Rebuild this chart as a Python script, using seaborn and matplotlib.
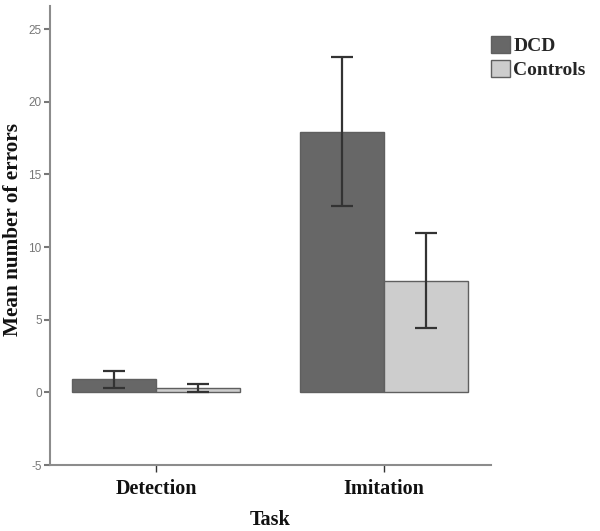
import matplotlib
matplotlib.use("Agg")
import matplotlib.pyplot as plt
import seaborn as sns
import pandas as pd
import numpy as np
from matplotlib.patches import Patch

tasks = ["Detection", "Imitation"]
groups = ["DCD", "Controls"]
dcd_means = [0.9, 17.9]
ctrl_means = [0.3, 7.7]
dcd_low = [0.3, 12.8]
dcd_high = [1.5, 23.1]
ctrl_low = [0.0, 4.4]
ctrl_high = [0.6, 11.0]
yticks = [-5, 0, 5, 10, 15, 20, 25]

colors = {"DCD": "#676767", "Controls": "#cdcdcd"}

df = pd.DataFrame({
    "Task": tasks * 2,
    "Group": ["DCD"] * 2 + ["Controls"] * 2,
    "Mean": dcd_means + ctrl_means,
    "Low": dcd_low + ctrl_low,
    "High": dcd_high + ctrl_high,
})

sns.set_style("white")
serif = ["Liberation Serif", "DejaVu Serif"]

fig = plt.figure(figsize=(6.0, 5.31), dpi=100)
ax = fig.add_axes([50 / 600, 1 - 465 / 531, 441 / 600, 459 / 531])

sns.barplot(data=df, x="Task", y="Mean", hue="Group", order=tasks,
            hue_order=groups, palette=colors, errorbar=None, width=0.737,
            edgecolor="#5f5f5f", linewidth=1.0, legend=False, ax=ax)

# error bars at bar centres
for i, g in enumerate(groups):
    sub = df[df["Group"] == g].set_index("Task").loc[tasks]
    cont = ax.containers[i]
    xs = [p.get_x() + p.get_width() / 2 for p in cont.patches]
    means = sub["Mean"].values
    lo = means - sub["Low"].values
    hi = sub["High"].values - means
    ax.errorbar(xs, means, yerr=[lo, hi], fmt="none", ecolor="#333333",
                elinewidth=1.6, capsize=8, capthick=1.6, zorder=5)

ax.set_xlim(-0.465, 1.469)
ax.set_ylim(-5, 26.6)
ax.set_yticks(yticks)
ax.set_yticklabels([str(t) for t in yticks], fontsize=8.5, color="#777777",
                   family=["Liberation Sans", "DejaVu Sans"])

for s in ["top", "right"]:
    ax.spines[s].set_visible(False)
for s in ["left", "bottom"]:
    ax.spines[s].set_color("#8c8c8c")
    ax.spines[s].set_linewidth(1.5)

ax.tick_params(axis="y", which="major", left=True, length=4, width=1.5,
               color="#777777", pad=2)
ax.tick_params(axis="x", which="major", bottom=True, length=5, width=1.0,
               color="#333333", pad=5)
for lab in ax.get_xticklabels():
    lab.set_family(serif)
    lab.set_fontweight("bold")
    lab.set_fontsize(14.5)
    lab.set_color("#111111")

ax.set_xlabel("Task", family=serif, fontweight="bold", fontsize=14.5,
              color="#111111", labelpad=8)
ax.set_ylabel("Mean number of errors", family=serif, fontweight="bold",
              fontsize=15.3, color="#111111")
ax.yaxis.set_label_coords(-0.062, 0.514)

handles = [Patch(facecolor=colors[g], edgecolor="#5f5f5f", linewidth=1.0, label=g)
           for g in groups]
leg = fig.legend(handles=handles, loc="upper left",
                 bbox_to_anchor=(491 / 600, 1 - 36 / 531), frameon=False,
                 prop={"family": serif, "weight": "bold", "size": 14},
                 handlelength=1.0, handleheight=0.95, handletextpad=0.15,
                 labelspacing=0.25, borderaxespad=0, borderpad=0)

fig.savefig("out.png", dpi=100)
